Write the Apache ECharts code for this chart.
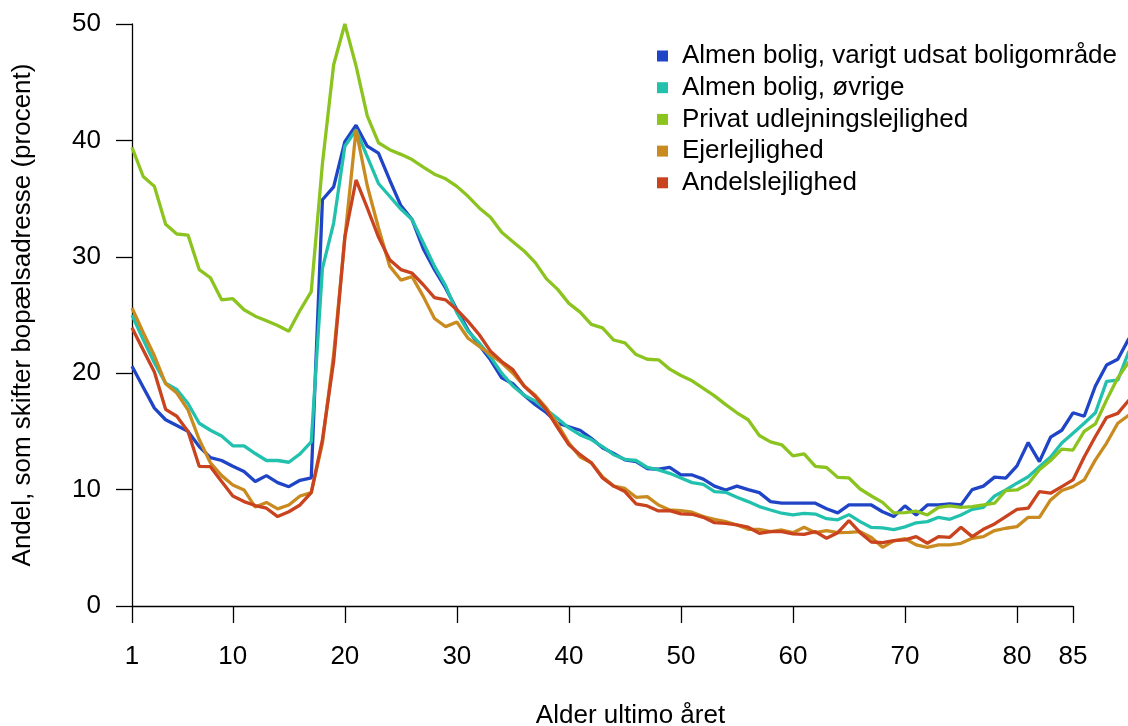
<!DOCTYPE html>
<html>
<head>
<meta charset="utf-8">
<script src="https://cdn.jsdelivr.net/npm/echarts@6/dist/echarts.min.js"></script>
<style>
html,body{margin:0;padding:0;background:#fff;}
#chart{width:1128px;height:726px;}
</style>
</head>
<body>
<div id="chart"></div>
<script>
// Ages 1..90
const ages = [];
for (let a = 1; a <= 90; a++) ages.push(a);

const xTicks = [1, 10, 20, 30, 40, 50, 60, 70, 80, 85];

const seriesNames = [
  'Almen bolig, varigt udsat boligområde',
  'Almen bolig, øvrige',
  'Privat udlejningslejlighed',
  'Ejerlejlighed',
  'Andelslejlighed'
];

const almenUdsat = [
  20.6, 18.8, 17.0, 16.0, 15.5, 15.0, 13.7, 12.75, 12.5, 12.0,
  11.55, 10.7, 11.2, 10.6, 10.25, 10.8, 11.0, 34.9, 36.0, 39.9,
  41.3, 39.5, 38.9, 36.6, 34.4, 33.2, 30.7, 28.9, 27.3, 25.45,
  23.7, 22.4, 21.15, 19.6, 19.1, 18.1, 17.3, 16.6, 15.7, 15.4,
  15.1, 14.4, 13.6, 13.1, 12.55, 12.4, 11.8, 11.75, 11.9, 11.26,
  11.26, 10.9, 10.3, 9.97, 10.3, 10.0, 9.74, 8.97, 8.83, 8.83,
  8.83, 8.83, 8.35, 8.0, 8.68, 8.68, 8.68, 8.1, 7.68, 8.6,
  7.82, 8.68, 8.68, 8.77, 8.68, 10.0, 10.3, 11.07, 10.98, 12.04,
  14.04, 12.4, 14.5, 15.1, 16.6, 16.3, 18.9, 20.7, 21.2, 23.0
];

const almenOevrige = [
  25.0, 22.9, 20.9, 19.15, 18.6, 17.4, 15.7, 15.1, 14.6, 13.76,
  13.76, 13.1, 12.5, 12.5, 12.35, 13.07, 14.1, 29.0, 32.9, 39.5,
  40.9, 38.6, 36.3, 35.2, 34.1, 33.2, 31.2, 29.2, 27.5, 25.2,
  23.6, 22.6, 21.4, 20.0, 18.9, 18.1, 17.6, 16.85, 16.1, 15.3,
  14.7, 14.3, 13.7, 13.0, 12.6, 12.5, 11.9, 11.7, 11.4, 11.0,
  10.6, 10.45, 9.83, 9.77, 9.34, 8.97, 8.54, 8.25, 7.97, 7.82,
  7.95, 7.9, 7.5, 7.4, 7.85, 7.25, 6.75, 6.72, 6.56, 6.8,
  7.15, 7.25, 7.62, 7.45, 7.82, 8.3, 8.48, 9.45, 9.97, 10.55,
  11.1, 11.97, 12.8, 14.0, 14.85, 15.7, 16.6, 19.3, 19.4, 21.9
];

const privatUdlejning = [
  39.4, 36.9, 36.05, 32.8, 31.96, 31.87, 28.9, 28.2, 26.3, 26.4,
  25.45, 24.9, 24.5, 24.1, 23.6, 25.4, 27.0, 38.0, 46.5, 50.0,
  46.4, 42.1, 39.8, 39.2, 38.8, 38.35, 37.7, 37.1, 36.7, 36.05,
  35.2, 34.2, 33.4, 32.1, 31.3, 30.5, 29.5, 28.1, 27.2, 26.0,
  25.25, 24.2, 23.9, 22.85, 22.6, 21.6, 21.2, 21.15, 20.35, 19.8,
  19.35, 18.7, 18.05, 17.3, 16.6, 16.0, 14.65, 14.1, 13.85, 12.9,
  13.07, 12.0, 11.9, 11.05, 11.0, 10.05, 9.45, 8.9, 8.0, 8.03,
  8.15, 7.82, 8.48, 8.6, 8.48, 8.54, 8.68, 8.83, 9.92, 9.97,
  10.5, 11.7, 12.5, 13.47, 13.4, 15.0, 15.65, 17.7, 19.6, 21.0
];

const ejerlejlighed = [
  25.6, 23.5, 21.5, 19.1, 18.3, 16.85, 14.3, 12.3, 11.2, 10.4,
  9.97, 8.5, 8.9, 8.34, 8.68, 9.45, 9.74, 14.0, 21.6, 31.6,
  40.9, 36.1, 32.5, 29.2, 28.0, 28.3, 26.6, 24.7, 24.0, 24.4,
  23.0, 22.3, 21.6, 20.9, 20.0, 18.9, 18.1, 17.0, 15.6, 14.0,
  12.8, 12.3, 11.1, 10.3, 10.1, 9.34, 9.4, 8.68, 8.25, 8.2,
  8.06, 7.68, 7.45, 7.25, 6.96, 6.59, 6.59, 6.39, 6.53, 6.3,
  6.77, 6.3, 6.48, 6.3, 6.32, 6.39, 5.88, 5.04, 5.6, 5.78,
  5.25, 5.04, 5.25, 5.25, 5.39, 5.82, 5.96, 6.48, 6.68, 6.82,
  7.62, 7.62, 9.11, 9.92, 10.26, 10.83, 12.55, 14.0, 15.7, 16.4
];

const andelslejlighed = [
  23.9, 22.0, 20.1, 16.9, 16.3, 15.0, 12.0, 11.97, 10.7, 9.45,
  8.97, 8.63, 8.4, 7.68, 8.1, 8.68, 9.74, 14.3, 21.0, 31.7,
  36.6, 34.2, 31.7, 29.75, 28.9, 28.6, 27.6, 26.5, 26.3, 25.45,
  24.45, 23.3, 21.9, 21.0, 20.3, 18.9, 18.0, 16.85, 15.3, 13.85,
  13.0, 12.3, 11.0, 10.3, 9.83, 8.77, 8.6, 8.17, 8.2, 7.91,
  7.88, 7.62, 7.16, 7.1, 6.96, 6.77, 6.25, 6.39, 6.39, 6.19,
  6.15, 6.39, 5.82, 6.3, 7.34, 6.3, 5.5, 5.45, 5.62, 5.68,
  5.96, 5.39, 5.96, 5.9, 6.77, 5.96, 6.59, 7.05, 7.68, 8.3,
  8.4, 9.83, 9.69, 10.26, 10.83, 12.8, 14.56, 16.2, 16.55, 17.7
];

const allValues = [almenUdsat, almenOevrige, privatUdlejning, ejerlejlighed, andelslejlighed];
const colors = ['#1f45c6', '#22c1ae', '#8bc31f', '#c98b1f', '#c9431f'];

const FONT = '"Liberation Sans", Arial, Helvetica, sans-serif';
const FS = 26;

const series = seriesNames.map((name, i) => {
  const s = {
    name: name,
    type: 'line',
    data: ages.map((a, k) => [a, allValues[i][k]]),
    showSymbol: false,
    symbol: 'none',
    lineStyle: { width: 3.3, color: colors[i] },
    itemStyle: { color: colors[i] },
    z: 2 + i,
    animation: false,
    clip: false
  };
  if (i === 0) {
    // axis line from first to last tick (R-style)
    s.markLine = {
      silent: true,
      symbol: ['none', 'none'],
      label: { show: false },
      lineStyle: { color: '#000', width: 1.3, type: 'solid' },
      data: [[{ coord: [xTicks[0], 0] }, { coord: [xTicks[xTicks.length - 1], 0] }]],
      animation: false
    };
  }
  return s;
});

const chart = echarts.init(document.getElementById('chart'), null, { renderer: 'canvas' });
chart.setOption({
  backgroundColor: '#ffffff',
  animation: false,
  textStyle: { fontFamily: FONT },
  grid: { left: 132, top: 24, width: 997, height: 582, containLabel: false, outerBoundsMode: 'none' },
  legend: {
    orient: 'vertical',
    left: 652,
    top: 38,
    icon: 'rect',
    itemWidth: 11,
    itemHeight: 11,
    itemGap: 5.7,
    selectedMode: false,
    textStyle: { fontFamily: FONT, fontSize: FS, color: '#000', lineHeight: 24, padding: [0, 0, 0, 9] },
    data: seriesNames
  },
  xAxis: {
    type: 'value',
    min: 1,
    max: 90,
    name: 'Alder ultimo året',
    nameLocation: 'middle',
    nameGap: 97,
    nameTextStyle: { fontFamily: FONT, fontSize: FS, color: '#000' },
    axisLine: { show: false },
    splitLine: { show: false },
    axisTick: {
      show: true,
      length: 17,
      customValues: xTicks,
      lineStyle: { color: '#000', width: 1.3 }
    },
    axisLabel: {
      show: true,
      customValues: xTicks,
      margin: 38,
      fontFamily: FONT,
      fontSize: FS,
      color: '#000'
    }
  },
  yAxis: {
    type: 'value',
    min: 0,
    max: 50,
    interval: 10,
    name: 'Andel, som skifter bopælsadresse (procent)',
    nameLocation: 'middle',
    nameGap: 96,
    nameTextStyle: { fontFamily: FONT, fontSize: FS, color: '#000' },
    axisLine: { show: true, lineStyle: { color: '#000', width: 1.3 } },
    axisTick: { show: true, length: 16, lineStyle: { color: '#000', width: 1.3 } },
    axisLabel: { margin: 31, fontFamily: FONT, fontSize: FS, color: '#000' },
    splitLine: { show: false }
  },
  series: series
});
</script>
</body>
</html>
